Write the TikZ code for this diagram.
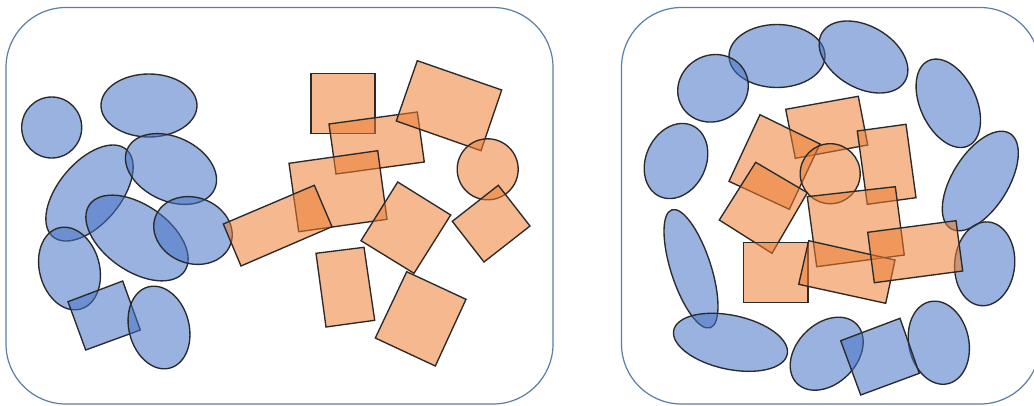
\documentclass[tikz,border=0pt]{standalone}
\usetikzlibrary{calc}
\definecolor{bluefill}{HTML}{4472C4}
\definecolor{orangefill}{HTML}{ED7D31}
\definecolor{framecol}{HTML}{5A7FA6}
\definecolor{edgecol}{HTML}{2A2A2A}
\tikzset{
  blueshape/.style={fill=bluefill, fill opacity=0.54, draw=edgecol, line width=1.35pt, line join=miter},
  orangeshape/.style={fill=orangefill, fill opacity=0.54, draw=edgecol, line width=1.35pt, line join=miter},
  panel/.style={draw=framecol, line width=1.2pt, rounded corners=60pt}
}
\newcommand{\myell}[5]{\path[#1, shift={(#2)}, rotate=#3] (0,0) ellipse [x radius=#4, y radius=#5];}
\begin{document}
\begin{tikzpicture}[x=1pt,y=-1pt]
\useasboundingbox (0,0) rectangle (1034,405);
\clip (0,0) rectangle (1034,405);
\fill[white] (0,0) rectangle (1034,405);
% ---------- left panel ----------
\draw[panel] (6,7.5) rectangle (553,404);
% blue shapes
\myell{blueshape}{51.7,127.5}{0}{30}{30.5}
\myell{blueshape}{149,105.5}{0}{48}{31.5}
\myell{blueshape}{89.5,193}{50}{57}{31}
\myell{blueshape}{171,169}{-25}{48}{32}
\myell{blueshape}{137,238}{-35}{58}{33}
\myell{blueshape}{193,230.5}{-20}{40}{33}
\myell{blueshape}{69.5,268.5}{-75}{42}{30}
\path[blueshape] (68,301.7) -- (122.7,281) -- (140.3,330) -- (85.7,350) -- cycle;
\myell{blueshape}{159,327.5}{-75}{42}{30}
% orange shapes
\path[orangeshape] (311,73.3) -- (375,73.3) -- (375,133.3) -- (311,133.3) -- cycle;
\path[orangeshape] (329,124) -- (417.3,112) -- (424.3,162) -- (336,174) -- cycle;
\path[orangeshape] (417.3,60.7) -- (501.7,90) -- (481,150.7) -- (396.3,121) -- cycle;
\myell{orangeshape}{487.7,169.3}{0}{30.5}{30.5}
\path[orangeshape] (289,163.3) -- (377.7,150.7) -- (387,219.3) -- (298.7,231.7) -- cycle;
\path[orangeshape] (223.3,224) -- (314.3,185.3) -- (332,226.7) -- (241,266) -- cycle;
\path[orangeshape] (397.7,182) -- (450.7,215) -- (414,273.3) -- (361,240.7) -- cycle;
\path[orangeshape] (498.3,185.3) -- (530,226) -- (484,262) -- (452.3,221.3) -- cycle;
\path[orangeshape] (316,253.3) -- (364,247.3) -- (374.7,320.3) -- (326,327) -- cycle;
\path[orangeshape] (406.7,271.7) -- (466,299.3) -- (435.3,366) -- (375.3,338) -- cycle;
% ---------- right panel ----------
\draw[panel] (621.5,7.5) rectangle (1040,404);
% blue ellipses
\myell{blueshape}{777,56}{0}{48}{31.5}
\myell{blueshape}{863.5,57}{-30}{48}{31}
\myell{blueshape}{713,88.3}{30}{36}{33}
\myell{blueshape}{948.3,103.3}{-65}{47}{28}
\myell{blueshape}{676,161}{65}{39}{30}
\myell{blueshape}{980.3,181}{58}{56}{28}
\myell{blueshape}{984.7,263.8}{85}{42}{30}
\myell{blueshape}{691,268.8}{-72}{62}{20}
\myell{blueshape}{730.5,342.3}{-12}{58}{27}
\myell{blueshape}{826.7,353.7}{45}{42}{30}
\myell{blueshape}{938.8,342.7}{-78}{42}{30}
\path[blueshape] (840.7,340.7) -- (900,318.3) -- (919.3,373.3) -- (860.7,395) -- cycle;
% orange shapes
\path[orangeshape] (785.7,109.3) -- (858.3,96.3) -- (867.7,145) -- (795.3,158.3) -- cycle;
\path[orangeshape] (760,114.7) -- (820,144) -- (789.3,209.3) -- (729,181.3) -- cycle;
\path[orangeshape] (857.3,131) -- (906,124.3) -- (916,197.7) -- (867.3,204.3) -- cycle;
\myell{orangeshape}{830.2,173.7}{0}{30}{30}
\path[orangeshape] (755.7,162.3) -- (807.3,192.7) -- (772,253.3) -- (719.3,220) -- cycle;
\path[orangeshape] (807.3,196.7) -- (895.3,186.7) -- (904.3,255) -- (816.7,266.7) -- cycle;
\path[orangeshape] (743.7,242.3) -- (808,242.3) -- (808,302.3) -- (743.7,302.3) -- cycle;
\path[orangeshape] (808.7,240.7) -- (895,260) -- (885.7,303.3) -- (798.7,284.3) -- cycle;
\path[orangeshape] (867.7,232.3) -- (956,220.7) -- (962.7,271) -- (874.3,282.7) -- cycle;
\end{tikzpicture}
\end{document}
